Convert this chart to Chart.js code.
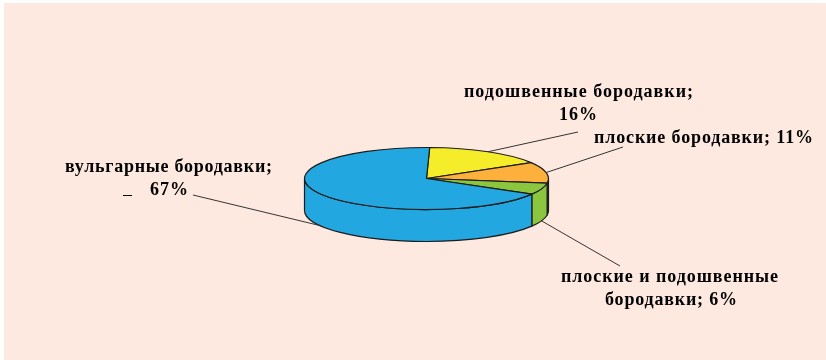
<!DOCTYPE html>
<html>
<head>
<meta charset="utf-8">
<script src="https://cdn.jsdelivr.net/npm/chart.js@4"></script>
<style>
  html, body { margin: 0; padding: 0; background: #fff; overflow: hidden; }
  #panel { position: absolute; left: 4px; top: 3px; right: 0; bottom: 0; background: #fde9e0; }
  #pie { position: absolute; left: 0; top: 0; }
</style>
</head>
<body>
<div id="panel"></div>
<canvas id="pie" width="826" height="360"></canvas>
<script>
// Данные диаграммы
const categories = ["подошвенные бородавки", "плоские бородавки", "плоские и подошвенные бородавки", "вульгарные бородавки"];
const values = [16, 11, 6, 67];
const colors = ["#f5ec2a", "#fdb03c", "#8cc63f", "#22a7e0"];
const sideColors = ["#f5ec2a", "#2b2b2b", "#8cc63f", "#22a7e0"];

// Подписи: текст, x начала, x конца, базовая линия
const captions = [
  ["подошвенные бородавки;", 464, 693, 97],
  ["16%", 559, 597, 120],
  ["плоские бородавки; 11%", 594, 813, 143],
  ["плоские и подошвенные", 561, 778, 282],
  ["бородавки; 6%", 605, 737, 305],
  ["вульгарные бородавки;", 65, 272, 172],
  ["67%", 150, 188, 195]
];
// Внешние концы выносок и на каком ярусе (верх/низ) внутренний конец
const leaderEnds = [[578, 132], [623, 147], [620, 266], [193, 195]];
const leaderOnBottom = [false, false, true, true];

const squash = 31 / 122; // наклон пирога
const depth = 32;

const pie3d = {
  id: "pie3d",
  beforeDatasetsDraw(chart) {
    const ctx = chart.ctx;
    const arcs = chart.getDatasetMeta(0).data;
    const cx = arcs[0].x, cy = arcs[0].y, rx = arcs[0].outerRadius, ry = rx * squash;

    ctx.save();
    ctx.lineWidth = 1.2;
    ctx.strokeStyle = "#1c1c1c";
    ctx.lineJoin = "round";

    // боковая стенка, только передняя половина
    arcs.forEach((arc, i) => {
      const a = Math.max(arc.startAngle, 0), b = Math.min(arc.endAngle, Math.PI);
      if (b <= a) return;
      ctx.beginPath();
      ctx.ellipse(cx, cy, rx, ry, 0, a, b);
      ctx.ellipse(cx, cy + depth, rx, ry, 0, b, a, true);
      ctx.closePath();
      ctx.fillStyle = sideColors[i];
      ctx.fill();
      ctx.stroke();
    });

    // верхняя крышка
    arcs.forEach((arc, i) => {
      ctx.beginPath();
      ctx.moveTo(cx, cy);
      ctx.ellipse(cx, cy, rx, ry, 0, arc.startAngle, arc.endAngle);
      ctx.closePath();
      ctx.fillStyle = colors[i];
      ctx.fill();
      ctx.stroke();
    });

    // выноски
    ctx.lineWidth = 1;
    ctx.strokeStyle = "#333";
    arcs.forEach((arc, i) => {
      const mid = (arc.startAngle + arc.endAngle) / 2;
      ctx.beginPath();
      ctx.moveTo(cx + rx * Math.cos(mid), cy + ry * Math.sin(mid) + (leaderOnBottom[i] ? depth : 0));
      ctx.lineTo(leaderEnds[i][0], leaderEnds[i][1]);
      ctx.stroke();
    });

    // короткий штрих слева от 67%
    ctx.strokeStyle = "#000";
    ctx.beginPath();
    ctx.moveTo(123, 195.5);
    ctx.lineTo(132, 195.5);
    ctx.stroke();

    // подписи
    ctx.fillStyle = "#000";
    ctx.textAlign = "left";
    ctx.textBaseline = "alphabetic";
    ctx.font = "bold 18px 'Liberation Serif'";
    captions.forEach(([text, x0, x1, y]) => {
      ctx.letterSpacing = "0px";
      const w = ctx.measureText(text).width;
      ctx.letterSpacing = ((x1 - x0 - w) / (text.length - 1)) + "px";
      ctx.fillText(text, x0, y);
    });
    ctx.restore();
    return false;
  }
};

new Chart(document.getElementById("pie"), {
  type: "pie",
  data: {
    labels: categories,
    datasets: [{ data: values, backgroundColor: colors, borderWidth: 0 }]
  },
  options: {
    responsive: false,
    animation: false,
    rotation: 1.5,
    layout: { padding: { left: 304.5, right: 277.5, top: 56.5, bottom: 59.5 } },
    plugins: { legend: { display: false }, tooltip: { enabled: false } }
  },
  plugins: [pie3d]
});
</script>
</body>
</html>
